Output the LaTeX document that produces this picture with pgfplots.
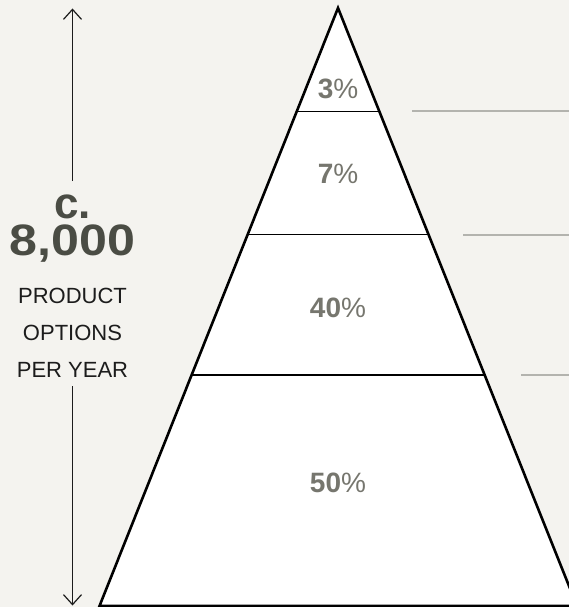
\documentclass[border=0pt]{standalone}
\usepackage{pgfplots}
\pgfplotsset{compat=1.18}
\usepackage{fontspec}
\setmainfont{Liberation Sans}
\usetikzlibrary{arrows.meta}

\definecolor{bg}{HTML}{F4F3EF}
\definecolor{pct}{HTML}{76766E}
\definecolor{big}{HTML}{4A4C44}
\definecolor{ink}{HTML}{1C1C1C}
\definecolor{guide}{HTML}{B3B3AE}

\tikzset{lbl/.style={inner sep=0pt, anchor=base}}

\begin{document}
\begin{tikzpicture}
\path[use as bounding box] (0,0) rectangle (569pt,607pt);
\begin{axis}[
    at={(0,0)}, anchor=south west,
    width=569pt, height=607pt, scale only axis,
    xmin=0, xmax=569, ymin=0, ymax=607,
    y dir=reverse,
    hide axis,
]
    % background
    \addplot[fill=bg, draw=none] coordinates {(0,0) (569,0) (569,607) (0,607)} -- cycle;

    % pyramid body
    \addplot[fill=white, draw=none] coordinates {(338,8) (99.5,606) (577,606)} -- cycle;

    % tier dividers
    \addplot[black, line width=1.8pt] coordinates {(296.6,111.5) (379.4,111.5)};
    \addplot[black, line width=1.8pt] coordinates {(247.5,234.5) (428.5,234.5)};
    \addplot[black, line width=1.8pt] coordinates {(191.3,375) (484.7,375)};

    % outline
    \addplot[black, line width=2.6pt, line join=miter] coordinates {(338,8) (99.5,606) (577,606)} -- cycle;

    % grey guides to the right
    \addplot[guide, line width=2pt] coordinates {(412,111.5) (569,111.5)};
    \addplot[guide, line width=2pt] coordinates {(463,234.5) (569,234.5)};
    \addplot[guide, line width=2pt] coordinates {(521,375) (569,375)};

    % height arrows
    \addplot[ink, line width=1.2pt, -{Straight Barb[length=10pt,width=18pt]}] coordinates {(72.5,181) (72.5,8.5)};
    \addplot[ink, line width=1.2pt, -{Straight Barb[length=10pt,width=18pt]}] coordinates {(72.5,386) (72.5,605.5)};

    % tier labels
    \node[lbl, text=pct, font=\fontsize{28}{28}\selectfont] at (axis cs:338,98.5) {\bfseries 3\mdseries\%};
    \node[lbl, text=pct, font=\fontsize{28}{28}\selectfont] at (axis cs:338,183) {\bfseries 7\mdseries\%};
    \node[lbl, text=pct, font=\fontsize{28}{28}\selectfont] at (axis cs:338,317) {\bfseries 40\mdseries\%};
    \node[lbl, text=pct, font=\fontsize{28}{28}\selectfont] at (axis cs:338,492.5) {\bfseries 50\mdseries\%};

    % left caption
    \node[lbl, align=center, text=big, font=\fontsize{44}{37}\selectfont\bfseries] at (axis cs:72.5,255) {c.\\\scalebox{1.14}[1]{8,000}};
    \node[lbl, text=ink, font=\fontsize{22}{22}\selectfont] at (axis cs:72.5,303.5) {PRODUCT};
    \node[lbl, text=ink, font=\fontsize{22}{22}\selectfont] at (axis cs:72.5,340.5) {OPTIONS};
    \node[lbl, text=ink, font=\fontsize{22}{22}\selectfont] at (axis cs:72.5,377.5) {PER YEAR};
\end{axis}
\end{tikzpicture}
\end{document}
